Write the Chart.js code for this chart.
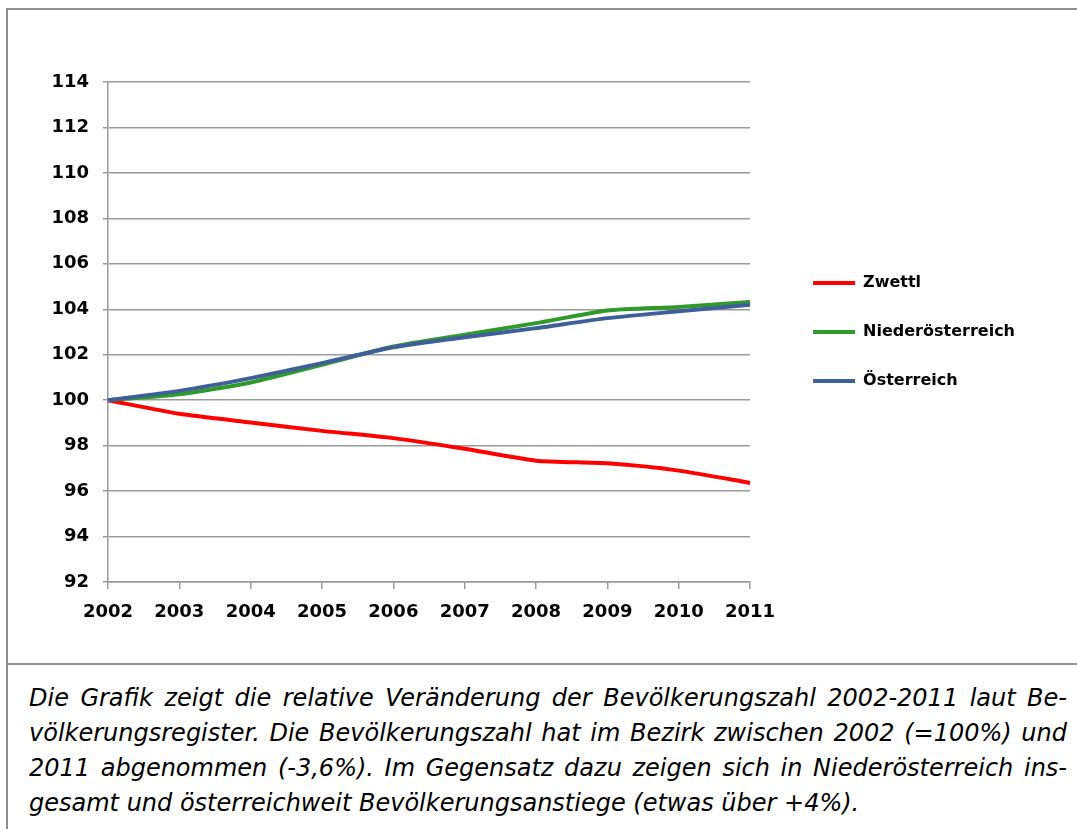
<!DOCTYPE html>
<html>
<head>
<meta charset="utf-8">
<script src="https://cdn.jsdelivr.net/npm/chart.js@4/dist/chart.umd.min.js"></script>
<style>
  body { margin: 0; background: #fff; width: 1077px; height: 829px; overflow: hidden; position: relative; }
  #frame { position: absolute; left: 6px; top: 8px; width: 1100px; height: 900px;
           border-left: 2px solid #8f8f8f; border-top: 2px solid #8f8f8f; }
  #sep { position: absolute; left: 6px; top: 663px; width: 1100px; height: 2px; background: #8f8f8f; }
  #wrap { position: absolute; left: 9px; top: 11px; width: 1068px; height: 651px; }
  #caption { position: absolute; left: 29px; top: 681px; width: 1038px;
             font-family: "DejaVu Sans", Verdana, sans-serif; font-style: italic;
             font-size: 24px; line-height: 35px; color: #000; }
  #caption span { display: block; text-align: justify; text-align-last: justify; white-space: nowrap; }
  #caption span.last { text-align-last: left; }
</style>
</head>
<body>
<div id="frame"></div>
<div id="sep"></div>
<div id="wrap"><canvas id="chart"></canvas></div>
<div id="caption">
  <span>Die Grafik zeigt die relative Veränderung der Bevölkerungszahl 2002-2011 laut Be-</span>
  <span>völkerungsregister. Die Bevölkerungszahl hat im Bezirk zwischen 2002 (=100%) und</span>
  <span>2011 abgenommen (-3,6%). Im Gegensatz dazu zeigen sich in Niederösterreich ins-</span>
  <span class="last">gesamt und österreichweit Bevölkerungsanstiege (etwas über +4%).</span>
</div>
<script>
// Daten (2002 = 100)
const years = ['2002', '2003', '2004', '2005', '2006', '2007', '2008', '2009', '2010', '2011'];
const zwettl = [100, 99.4, 99.02, 98.65, 98.33, 97.86, 97.34, 97.22, 96.9, 96.36];
const niederoesterreich = [100, 100.26, 100.78, 101.56, 102.36, 102.88, 103.39, 103.95, 104.1, 104.32];
const oesterreich = [100, 100.41, 100.97, 101.63, 102.33, 102.77, 103.17, 103.61, 103.91, 104.2];

const tickFont = { family: 'DejaVu Sans', size: 18, weight: 'bold' };
const gridColor = '#9a9a9a';

const ctx = document.getElementById('chart').getContext('2d');
new Chart(ctx, {
  type: 'line',
  data: {
    labels: years,
    datasets: [
      { label: 'Zwettl', data: zwettl, borderColor: '#ff0000', backgroundColor: '#ff0000', order: 2 },
      { label: 'Niederösterreich', data: niederoesterreich, borderColor: '#2f9a2a', backgroundColor: '#2f9a2a', order: 1 },
      { label: 'Österreich', data: oesterreich, borderColor: '#3f5f9b', backgroundColor: '#3f5f9b', order: 0 }
    ]
  },
  options: {
    responsive: true,
    maintainAspectRatio: false,
    animation: false,
    datasets: { line: { borderWidth: 4, tension: 0.2, pointRadius: 0, fill: false } },
    layout: { padding: { top: 71, left: 0, right: 52, bottom: 0 } },
    scales: {
      x: {
        grid: { display: true, drawOnChartArea: false, drawTicks: true, tickLength: 7, color: gridColor, lineWidth: 1.5 },
        border: { display: true, color: gridColor, width: 1.5 },
        ticks: { color: '#000', font: tickFont, padding: 13, maxRotation: 0, autoSkip: false },
        afterFit: s => { s.height = 80; }
      },
      y: {
        min: 92, max: 114,
        grid: { color: gridColor, lineWidth: 1.5, tickLength: 5 },
        border: { display: true, color: gridColor, width: 1.5 },
        ticks: { stepSize: 2, color: '#000', font: tickFont, padding: 14 },
        afterFit: s => { s.width = 99; }
      },
      // leere Achse als Abstand zwischen Plot und Legende
      gap: {
        position: 'right', display: true,
        grid: { display: false, drawTicks: false },
        border: { display: false },
        ticks: { display: false },
        afterFit: s => { s.width = 30; }
      }
    },
    plugins: {
      tooltip: { enabled: false },
      legend: {
        position: 'right',
        fullSize: false,
        maxWidth: 400,
        labels: {
          usePointStyle: true,
          pointStyle: 'line',
          pointStyleWidth: 42,
          padding: 33,
          color: '#000',
          font: { family: 'DejaVu Sans', size: 16, weight: 'bold' },
          sort: (a, b) => a.datasetIndex - b.datasetIndex
        }
      }
    }
  }
});
</script>
</body>
</html>
